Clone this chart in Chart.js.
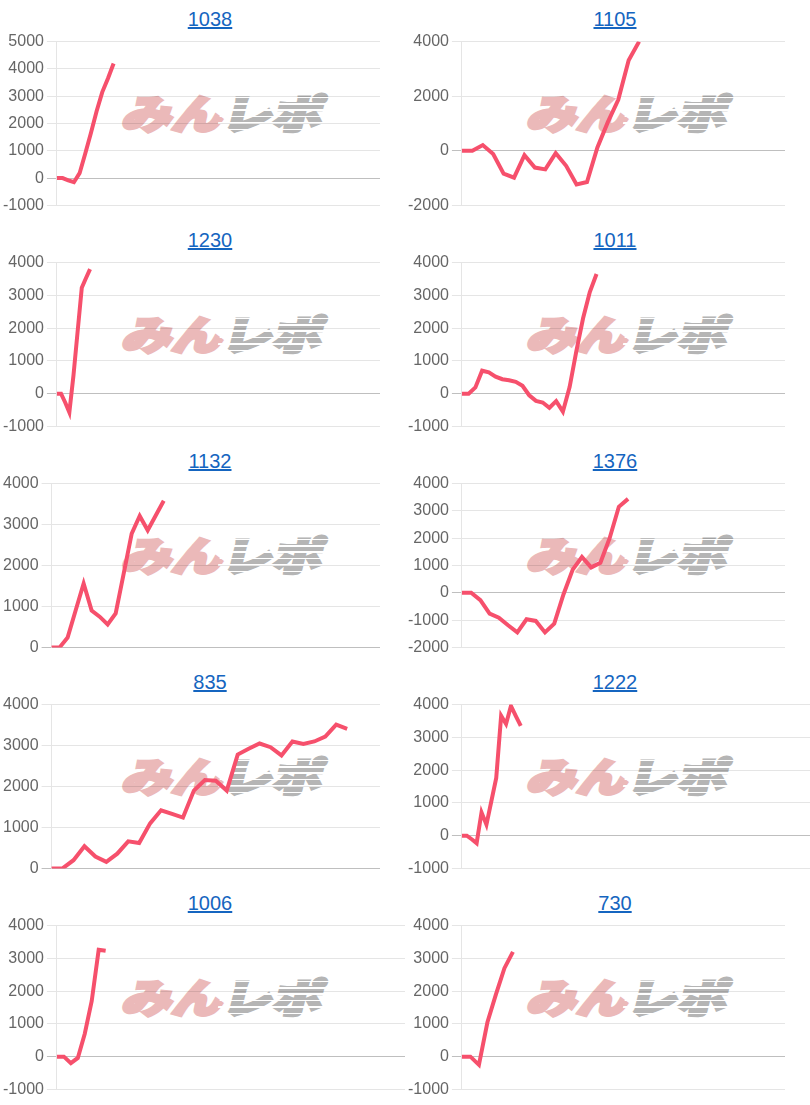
<!DOCTYPE html>
<html>
<head>
<meta charset="utf-8">
<script src="https://cdn.jsdelivr.net/npm/chart.js@4.4.0/dist/chart.umd.min.js"></script>
<style>
  body { margin: 0; background: #fff; font-family: Arial, "Liberation Sans", sans-serif; }
  #grid { position: relative; width: 810px; display: flex; flex-wrap: wrap; }
  .cell { position: relative; width: 405px; height: 221px; overflow: hidden; }
  .title { position: absolute; left: 0; top: 7px; width: 420px; text-align: center;
           font-size: 20px; line-height: 24px; }
  .title a { color: #1565c0; text-decoration: underline; }
  .logo { position: absolute; left: 130px; top: 91px; white-space: nowrap;
          font-family: "Noto Sans CJK JP", sans-serif; font-weight: 900; font-size: 50px;
          line-height: 50px; transform: skewX(-14deg) scaleY(0.8); transform-origin: left top; }
  .logo .min { color: #ebb9b9; -webkit-text-stroke: 4px #ebb9b9; }
  .logo .repo { position: relative; color: #b5b5b5; -webkit-text-stroke: 4px #b5b5b5; }
  .logo .repo::after { content: ""; position: absolute; left: -4px; right: -6px; top: 12px; bottom: 8px;
          background: repeating-linear-gradient(180deg, rgba(255,255,255,0) 0 6px, #fff 6px 8px); }
  canvas { position: absolute; left: 0; top: 29px; }
</style>
</head>
<body>
<div id="grid"></div>
<script>
// Globals - one entry per chart, left to right, top to bottom
const titles = ['1038', '1105', '1230', '1011', '1132', '1376', '835', '1222', '1006', '730'];

// number of x slots (hidden x labels) per chart
const slotCounts = [58, 32, 79, 49, 42, 36, 31, 72, 51, 39];

// y axis tick labels
const yMins = [-1000, -2000, -1000, -1000, 0, -2000, 0, -1000, -1000, -1000];
const yMaxs = [5000, 4000, 4000, 4000, 4000, 4000, 4000, 4000, 4000, 4000];
const ySteps = [1000, 2000, 1000, 1000, 1000, 1000, 1000, 1000, 1000, 1000];

// series values
const s1038 = [0, 0, -80, -150, 180, 900, 1650, 2450, 3150, 3650, 4200];
const s1105 = [0, 0, 210, -120, -840, -985, -160, -615, -680, -85, -550, -1230, -1145, 120, 1050, 1870, 3320, 4000];
const s1230 = [0, 0, -270, -570, 560, 1900, 3230, 3520, 3800];
const s1011 = [0, 0, 190, 700, 650, 520, 440, 410, 360, 240, -50, -220, -270, -430, -230, -550, 200, 1300, 2300, 3100, 3650];
const s1132 = [0, 0, 240, 900, 1560, 900, 750, 560, 830, 1800, 2780, 3210, 2860, 3220, 3580];
const s1376 = [0, 0, -270, -760, -910, -1190, -1450, -970, -1030, -1450, -1130, -60, 850, 1310, 930, 1100, 2000, 3150, 3440];
const s835 = [0, 0, 200, 540, 290, 160, 360, 660, 620, 1100, 1420, 1330, 1240, 1900, 2160, 2140, 1900, 2780, 2920, 3050, 2960, 2760, 3100, 3040, 3100, 3220, 3510, 3410];
const s1222 = [0, 0, -110, -230, 710, 335, 1050, 1760, 3660, 3410, 3960, 3650, 3350];
const s1006 = [0, 0, -200, -40, 700, 1700, 3260, 3230];
const s730 = [0, 0, -250, 1050, 1900, 2700, 3200];

const seriesList = [s1038, s1105, s1230, s1011, s1132, s1376, s835, s1222, s1006, s730];

// the two charts whose grid runs to the edge of the cell
const wideCharts = ['1222', '1006'];

const lineColor = 'rgb(246, 80, 108)';

function startApp() {
    const grid = document.getElementById('grid');

    titles.forEach((title, i) => {
        const cell = document.createElement('div');
        cell.className = 'cell';

        const head = document.createElement('div');
        head.className = 'title';
        head.innerHTML = `<a href="#">${title}</a>`;
        cell.appendChild(head);

        // watermark sits behind the canvas
        const logo = document.createElement('div');
        logo.className = 'logo';
        logo.innerHTML = '<span class="min">みん</span><span class="repo">レポ</span>';
        cell.appendChild(logo);

        const canvas = document.createElement('canvas');
        canvas.width = wideCharts.includes(title) ? 405 : 380;
        canvas.height = 189;
        cell.appendChild(canvas);
        grid.appendChild(cell);

        drawChart(canvas, i);
    });
}

function drawChart(canvas, i) {
    const labels = Array.from({ length: slotCounts[i] }, (_, k) => k + 1);

    new Chart(canvas.getContext('2d'), {
        type: 'line',
        data: {
            labels: labels,
            datasets: [{
                data: seriesList[i],
                borderColor: lineColor,
                backgroundColor: lineColor,
                borderWidth: 4,
                pointRadius: 0,
                tension: 0,
                fill: false
            }]
        },
        options: {
            responsive: false,
            animation: false,
            plugins: {
                legend: { display: false },
                tooltip: { enabled: false }
            },
            scales: {
                x: { display: false },
                y: {
                    min: yMins[i],
                    max: yMaxs[i],
                    ticks: {
                        stepSize: ySteps[i],
                        color: '#666',
                        padding: 3,
                        font: { size: 16, family: 'Arial, "Liberation Sans", sans-serif' },
                        callback: (value) => String(value)
                    },
                    grid: {
                        tickLength: 10,
                        color: (ctx) => ctx.tick && ctx.tick.value === 0 ? 'rgba(0,0,0,0.25)' : 'rgba(0,0,0,0.1)'
                    },
                    border: { color: 'rgba(0,0,0,0.1)' }
                }
            }
        }
    });
}

window.onload = startApp;
</script>
</body>
</html>
